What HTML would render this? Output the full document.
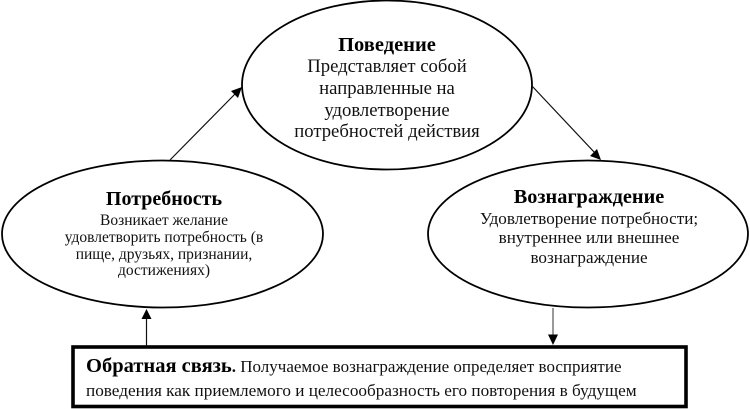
<!DOCTYPE html>
<html lang="ru">
<head>
<meta charset="utf-8">
<style>
html,body{margin:0;padding:0;background:#fff}
svg{display:block;position:absolute;left:0;top:0}
text{font-family:"Liberation Serif",serif;fill:#111;text-anchor:middle}
.b{font-weight:bold;fill:#000}
</style>
</head>
<body>
<svg width="750" height="409" viewBox="0 0 750 409" xmlns="http://www.w3.org/2000/svg">
<rect width="750" height="409" fill="#fff"/>
<ellipse cx="387" cy="85" rx="145" ry="84.5" fill="#fff" stroke="#000" stroke-width="1.8"/>
<ellipse cx="162.500" cy="234" rx="160.500" ry="73.500" fill="#fff" stroke="#000" stroke-width="1.8"/>
<ellipse cx="588" cy="234" rx="160" ry="73.500" fill="#fff" stroke="#000" stroke-width="1.8"/>
<rect x="73" y="347" width="613" height="59.500" fill="#fff" stroke="#000" stroke-width="3.600"/>

<line x1="170" y1="160" x2="236" y2="93" stroke="#111" stroke-width="1.2"/>
<polygon points="242,87 238,98 231,91" fill="#000"/>
<line x1="532" y1="86" x2="595" y2="153" stroke="#111" stroke-width="1.2"/>
<polygon points="601,160 590,156 597,149" fill="#000"/>
<line x1="146.500" y1="346" x2="146.500" y2="316" stroke="#111" stroke-width="1.200"/>
<polygon points="146.500,309 151.500,319 141.500,319" fill="#000"/>
<line x1="553" y1="308" x2="553" y2="338" stroke="#555" stroke-width="1.200"/>
<polygon points="553,345 548,334.500 558,334.500" fill="#000"/>

<text class="b" x="387" y="51" font-size="20.500">Поведение</text>
<text x="387" y="72" font-size="18.700">Представляет собой</text>
<text x="387" y="94" font-size="18.700">направленные на</text>
<text x="387" y="116" font-size="18.700">удовлетворение</text>
<text x="387" y="137" font-size="18.700">потребностей действия</text>

<text class="b" x="164" y="205" font-size="20">Потребность</text>
<text x="164" y="225" font-size="15.500">Возникает желание</text>
<text x="164" y="242" font-size="15.500">удовлетворить потребность (в</text>
<text x="164" y="259" font-size="15.500">пище, друзьях, признании,</text>
<text x="164" y="275" font-size="15.500">достижениях)</text>

<text class="b" x="589" y="203" font-size="20.300">Вознаграждение</text>
<text x="589" y="224" font-size="17.100">Удовлетворение потребности;</text>
<text x="589" y="243" font-size="17.100">внутреннее или внешнее</text>
<text x="589" y="263" font-size="17.100">вознаграждение</text>

<text x="86" y="372" font-size="17" style="text-anchor:start"><tspan font-size="20.500" font-weight="bold" fill="#000">Обратная связь</tspan><tspan font-weight="bold">.</tspan> Получаемое вознаграждение определяет восприятие</text>
<text x="86" y="396" font-size="17.200" style="text-anchor:start">поведения как приемлемого и целесообразность его повторения в будущем</text>
</svg>
</body>
</html>
